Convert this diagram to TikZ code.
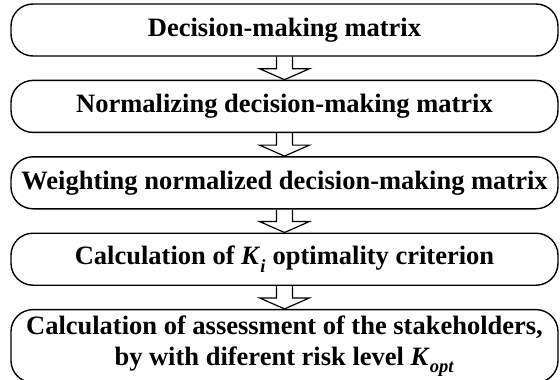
\documentclass[tikz,border=0pt]{standalone}
\usepackage{fontspec}
\setmainfont{Liberation Serif}
\usepackage{tikz}
\usetikzlibrary{positioning,calc}

\tikzset{
  stepbox/.style={draw, line width=1.4pt, rounded corners=22pt,
    minimum width=547pt, minimum height=52pt, align=center, inner sep=2pt,
    font=\fontsize{26.5}{31}\selectfont\bfseries},
  hollowarrow/.style={line width=1.2pt, line join=miter, to path={
    ($(\tikztostart)+(-8pt,0)$) -- ($(\tikztotarget)+(-8pt,11pt)$)
    -- ($(\tikztotarget)+(-25pt,11pt)$) -- (\tikztotarget)
    -- ($(\tikztotarget)+(25pt,11pt)$) -- ($(\tikztotarget)+(8pt,11pt)$)
    -- ($(\tikztostart)+(8pt,0)$)}}
}

\begin{document}
\begin{tikzpicture}[node distance=23pt]
      \useasboundingbox (0,0) rectangle (560pt,-380pt);

      \node [stepbox] at (284.5pt,-30pt) (1) {Decision-making matrix};
      \node [stepbox,below=of 1] (2) {Normalizing decision-making matrix};
      \node [stepbox,below=of 2] (3) {Weighting normalized decision-making matrix};
      \node [stepbox,below=of 3] (4) {Calculation of \textit{K}\raisebox{-0.3ex}{\textsubscript{\textit{i}}} optimality criterion};
      \node [stepbox,below=of 4,minimum height=73pt] (5) {Calculation of assessment of the stakeholders,\\
        by with diferent risk level \textit{K}\raisebox{-0.3ex}{\textsubscript{\textit{opt}}}};

      \draw[hollowarrow] (1.south) to (2.north);
      \draw[hollowarrow] (2.south) to (3.north);
      \draw[hollowarrow] (3.south) to (4.north);
      \draw[hollowarrow] (4.south) to (5.north);
    \end{tikzpicture}
\end{document}
